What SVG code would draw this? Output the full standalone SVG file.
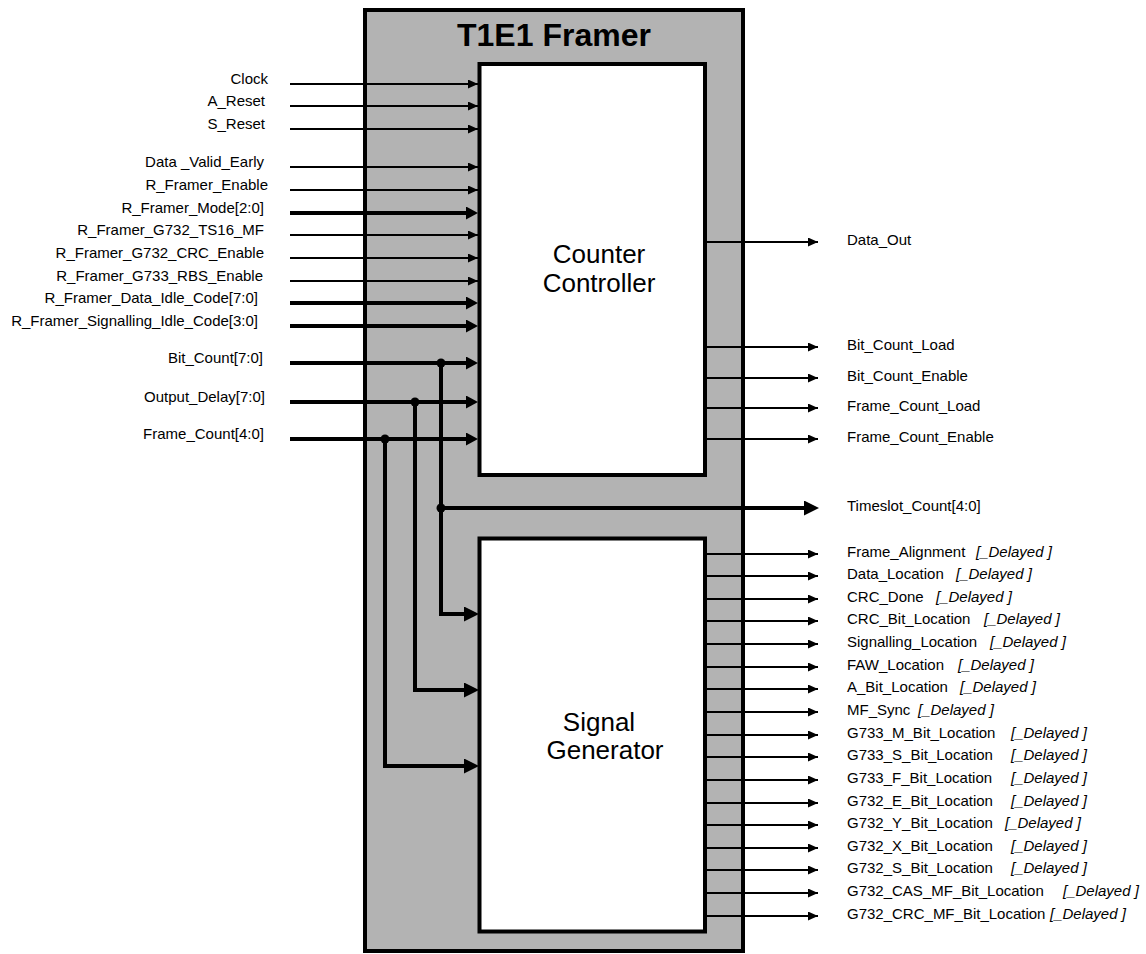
<svg xmlns="http://www.w3.org/2000/svg" width="1146" height="954" viewBox="0 0 1146 954">
<style>
.lbl{font-family:"Liberation Sans",Arial,sans-serif;font-size:15px;fill:#000}
.in{text-anchor:end}
.it{font-style:italic}
.big{font-family:"Liberation Sans",Arial,sans-serif;font-size:26px;fill:#000;text-anchor:middle}
.title{font-family:"Liberation Sans",Arial,sans-serif;font-size:32px;font-weight:bold;fill:#000}
.box{fill:#fff;stroke:#000;stroke-width:4}
.thin{stroke:#000;stroke-width:2;fill:none}
.thick{stroke:#000;stroke-width:4;fill:none}
</style>
<defs>
<marker id="aT" markerUnits="userSpaceOnUse" markerWidth="10" markerHeight="9" refX="10" refY="4.5" orient="auto"><path d="M0,0 L10,4.5 L0,9 z" fill="#000"/></marker>
<marker id="aK" markerUnits="userSpaceOnUse" markerWidth="12" markerHeight="13" refX="6" refY="6.5" orient="auto"><path d="M0,0 L12,6.5 L0,13 z" fill="#000"/></marker>
<marker id="aB" markerUnits="userSpaceOnUse" markerWidth="15" markerHeight="15" refX="7" refY="7.5" orient="auto"><path d="M0,0 L15,7.5 L0,15 z" fill="#000"/></marker>
</defs>

<g id="framer">
<rect x="365" y="10" width="378" height="941" fill="#b3b3b3" stroke="#000" stroke-width="4"/>
<text class="title" x="457" y="46">T1E1 Framer</text>
</g>

<g id="counter-controller">
<rect class="box" x="479.5" y="64" width="225.5" height="411"/>
<text class="big" x="599" y="263">Counter</text>
<text class="big" x="599" y="292">Controller</text>
</g>

<g id="signal-generator">
<rect class="box" x="479.5" y="538.5" width="225.5" height="393"/>
<text class="big" x="599" y="731">Signal</text>
<text class="big" x="605" y="759">Generator</text>
</g>

<g id="connectors">
<!-- inputs -->
<line class="thin" x1="290" y1="84" x2="478" y2="84" marker-end="url(#aT)"/>
<line class="thin" x1="290" y1="106" x2="478" y2="106" marker-end="url(#aT)"/>
<line class="thin" x1="290" y1="129" x2="478" y2="129" marker-end="url(#aT)"/>
<line class="thin" x1="290" y1="167" x2="478" y2="167" marker-end="url(#aT)"/>
<line class="thin" x1="290" y1="190" x2="478" y2="190" marker-end="url(#aT)"/>
<line class="thick" x1="290" y1="213" x2="472" y2="213" marker-end="url(#aK)"/>
<line class="thin" x1="290" y1="235" x2="478" y2="235" marker-end="url(#aT)"/>
<line class="thin" x1="290" y1="258" x2="478" y2="258" marker-end="url(#aT)"/>
<line class="thin" x1="290" y1="281" x2="478" y2="281" marker-end="url(#aT)"/>
<line class="thick" x1="290" y1="303" x2="472" y2="303" marker-end="url(#aK)"/>
<line class="thick" x1="290" y1="326" x2="472" y2="326" marker-end="url(#aK)"/>
<line class="thick" x1="290" y1="363" x2="472" y2="363" marker-end="url(#aK)"/>
<line class="thick" x1="290" y1="402" x2="472" y2="402" marker-end="url(#aK)"/>
<line class="thick" x1="290" y1="439" x2="472" y2="439" marker-end="url(#aK)"/>
<!-- branches to signal generator -->
<polyline class="thick" points="441,363 441,614 471,614" marker-end="url(#aB)"/>
<polyline class="thick" points="415,402 415,690 471,690" marker-end="url(#aB)"/>
<polyline class="thick" points="385,439 385,766 471,766" marker-end="url(#aB)"/>
<line class="thick" x1="441" y1="508" x2="811" y2="508" marker-end="url(#aB)"/>
<circle cx="441" cy="363" r="4.5" fill="#000"/>
<circle cx="415" cy="402" r="4.5" fill="#000"/>
<circle cx="385" cy="439" r="4.5" fill="#000"/>
<circle cx="441" cy="508" r="4.5" fill="#000"/>
<!-- counter outputs -->
<line class="thin" x1="707" y1="242" x2="818" y2="242" marker-end="url(#aT)"/>
<line class="thin" x1="707" y1="347" x2="818" y2="347" marker-end="url(#aT)"/>
<line class="thin" x1="707" y1="378" x2="818" y2="378" marker-end="url(#aT)"/>
<line class="thin" x1="707" y1="408" x2="818" y2="408" marker-end="url(#aT)"/>
<line class="thin" x1="707" y1="439" x2="818" y2="439" marker-end="url(#aT)"/>
<!-- signal generator outputs -->
<line class="thin" x1="707" y1="554" x2="818" y2="554" marker-end="url(#aT)"/>
<line class="thin" x1="707" y1="576" x2="818" y2="576" marker-end="url(#aT)"/>
<line class="thin" x1="707" y1="599" x2="818" y2="599" marker-end="url(#aT)"/>
<line class="thin" x1="707" y1="621" x2="818" y2="621" marker-end="url(#aT)"/>
<line class="thin" x1="707" y1="644" x2="818" y2="644" marker-end="url(#aT)"/>
<line class="thin" x1="707" y1="667" x2="818" y2="667" marker-end="url(#aT)"/>
<line class="thin" x1="707" y1="689" x2="818" y2="689" marker-end="url(#aT)"/>
<line class="thin" x1="707" y1="712" x2="818" y2="712" marker-end="url(#aT)"/>
<line class="thin" x1="707" y1="735" x2="818" y2="735" marker-end="url(#aT)"/>
<line class="thin" x1="707" y1="757" x2="818" y2="757" marker-end="url(#aT)"/>
<line class="thin" x1="707" y1="780" x2="818" y2="780" marker-end="url(#aT)"/>
<line class="thin" x1="707" y1="803" x2="818" y2="803" marker-end="url(#aT)"/>
<line class="thin" x1="707" y1="825" x2="818" y2="825" marker-end="url(#aT)"/>
<line class="thin" x1="707" y1="848" x2="818" y2="848" marker-end="url(#aT)"/>
<line class="thin" x1="707" y1="870" x2="818" y2="870" marker-end="url(#aT)"/>
<line class="thin" x1="707" y1="893" x2="818" y2="893" marker-end="url(#aT)"/>
<line class="thin" x1="707" y1="916" x2="818" y2="916" marker-end="url(#aT)"/>
</g>

<g id="input-labels">
<text class="lbl in" x="268" y="84">Clock</text>
<text class="lbl in" x="265" y="106">A_Reset</text>
<text class="lbl in" x="265" y="129">S_Reset</text>
<text class="lbl in" x="264" y="167">Data _Valid_Early</text>
<text class="lbl in" x="268" y="190">R_Framer_Enable</text>
<text class="lbl in" x="264" y="213">R_Framer_Mode[2:0]</text>
<text class="lbl in" x="264" y="235">R_Framer_G732_TS16_MF</text>
<text class="lbl in" x="264" y="258">R_Framer_G732_CRC_Enable</text>
<text class="lbl in" x="263" y="281">R_Framer_G733_RBS_Enable</text>
<text class="lbl in" x="258" y="303">R_Framer_Data_Idle_Code[7:0]</text>
<text class="lbl in" x="258" y="326">R_Framer_Signalling_Idle_Code[3:0]</text>
<text class="lbl in" x="263" y="363">Bit_Count[7:0]</text>
<text class="lbl in" x="265" y="402">Output_Delay[7:0]</text>
<text class="lbl in" x="264" y="439">Frame_Count[4:0]</text>
</g>

<g id="output-labels">
<text class="lbl" x="847" y="245">Data_Out</text>
<text class="lbl" x="847" y="350">Bit_Count_Load</text>
<text class="lbl" x="847" y="381">Bit_Count_Enable</text>
<text class="lbl" x="847" y="411">Frame_Count_Load</text>
<text class="lbl" x="847" y="442">Frame_Count_Enable</text>
<text class="lbl" x="847" y="511">Timeslot_Count[4:0]</text>
<text class="lbl" x="847" y="557">Frame_Alignment<tspan class="it" x="976">[_Delayed ]</tspan></text>
<text class="lbl" x="847" y="579">Data_Location<tspan class="it" x="956">[_Delayed ]</tspan></text>
<text class="lbl" x="847" y="602">CRC_Done<tspan class="it" x="936">[_Delayed ]</tspan></text>
<text class="lbl" x="847" y="624">CRC_Bit_Location<tspan class="it" x="984">[_Delayed ]</tspan></text>
<text class="lbl" x="847" y="647">Signalling_Location<tspan class="it" x="990">[_Delayed ]</tspan></text>
<text class="lbl" x="847" y="670">FAW_Location<tspan class="it" x="958">[_Delayed ]</tspan></text>
<text class="lbl" x="847" y="692">A_Bit_Location<tspan class="it" x="960">[_Delayed ]</tspan></text>
<text class="lbl" x="847" y="715">MF_Sync<tspan class="it" x="918">[_Delayed ]</tspan></text>
<text class="lbl" x="847" y="738">G733_M_Bit_Location<tspan class="it" x="1011">[_Delayed ]</tspan></text>
<text class="lbl" x="847" y="760">G733_S_Bit_Location<tspan class="it" x="1011">[_Delayed ]</tspan></text>
<text class="lbl" x="847" y="783">G733_F_Bit_Location<tspan class="it" x="1011">[_Delayed ]</tspan></text>
<text class="lbl" x="847" y="806">G732_E_Bit_Location<tspan class="it" x="1011">[_Delayed ]</tspan></text>
<text class="lbl" x="847" y="828">G732_Y_Bit_Location<tspan class="it" x="1005">[_Delayed ]</tspan></text>
<text class="lbl" x="847" y="851">G732_X_Bit_Location<tspan class="it" x="1011">[_Delayed ]</tspan></text>
<text class="lbl" x="847" y="873">G732_S_Bit_Location<tspan class="it" x="1011">[_Delayed ]</tspan></text>
<text class="lbl" x="847" y="896">G732_CAS_MF_Bit_Location<tspan class="it" x="1063">[_Delayed ]</tspan></text>
<text class="lbl" x="847" y="919">G732_CRC_MF_Bit_Location<tspan class="it" x="1050">[_Delayed ]</tspan></text>
</g>
</svg>
